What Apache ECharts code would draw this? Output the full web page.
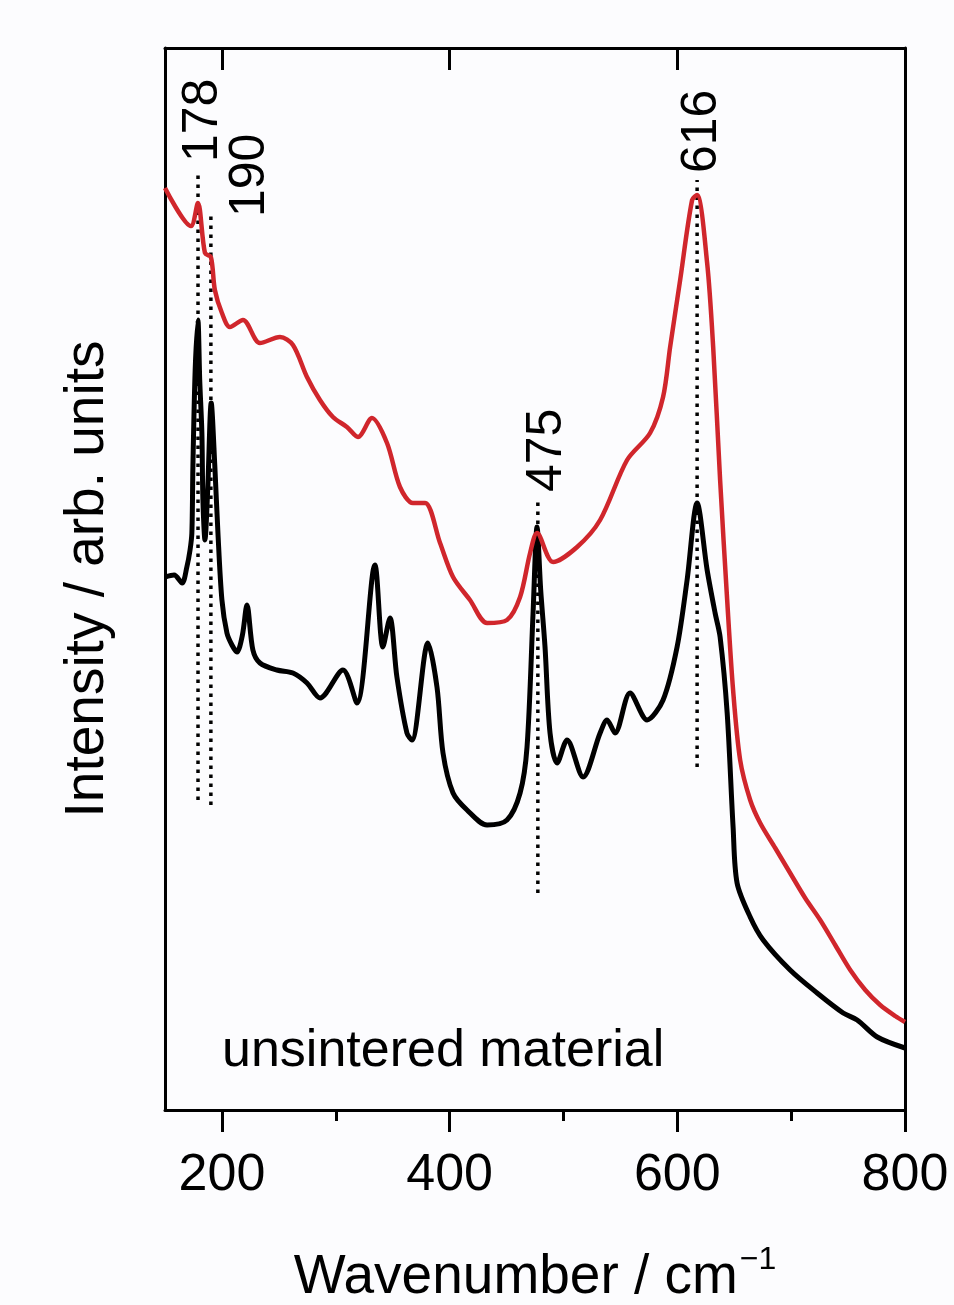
<!DOCTYPE html>
<html>
<head>
<meta charset="utf-8">
<script src="https://cdn.jsdelivr.net/npm/echarts@6/dist/echarts.min.js"></script>
<style>
  html, body { margin: 0; padding: 0; background: #fcfcfe; }
  #chart { width: 954px; height: 1305px; }
</style>
</head>
<body>
<div id="chart"></div>
<script>
// black spectrum
var blackWn = [150, 158, 165, 169.2, 172, 173.6, 174.5, 176.5, 178.9, 180.5, 182.4, 183.3, 185.1, 187.5, 190.6, 193.8, 196.5, 200, 204.4, 208.8, 213.2, 218, 222, 227.2, 233.4, 248.3, 262.4, 274.7, 286.1, 306.3, 318.6, 334.4, 341.4, 347.6, 353.7, 362.5, 366.9, 381, 388.9, 394.2, 403, 415.3, 432.9, 450.4, 461.9, 468, 473.3, 476.8, 480, 483.8, 488.2, 494.4, 503.2, 517.2, 532.2, 538.3, 545.3, 558.5, 573.5, 587.5, 599.8, 608.6, 617.4, 626.2, 633.2, 637.6, 643.8, 649, 652.5, 664, 675.4, 699.1, 722.8, 745.7, 758, 775.6, 800];
var blackInt = [53.3, 53.5, 52.7, 54.3, 56, 57.7, 64.3, 74, 79, 73, 67.7, 61, 57, 62, 70.7, 64.3, 57.7, 51, 47.7, 46.5, 45.8, 47.5, 50.5, 46, 44.7, 44, 43.7, 42.7, 41.2, 44, 40.7, 54.5, 46.3, 49.2, 43.3, 37.7, 37, 46.7, 42.3, 35.7, 31.7, 30, 28.5, 29, 31.7, 36.3, 49.7, 58.3, 52, 46.3, 37.7, 34.7, 37, 33.3, 37.7, 39, 37.7, 41.7, 39, 41, 46.3, 53, 60.7, 54, 49.7, 47.3, 39.7, 28.3, 22.7, 19.3, 17, 14, 11.7, 9.7, 9, 7.3, 6.2];

// red spectrum
var redWn = [150, 172.8, 178.9, 185.1, 190.3, 193.8, 200, 207, 218.5, 233.4, 251, 262.4, 274.7, 286.1, 297.5, 309.8, 319.5, 331.8, 345, 356.4, 367.8, 378.4, 391.6, 403, 417.9, 432.9, 450.4, 461.9, 470.7, 476.8, 490.9, 512, 532.2, 555.9, 576.1, 587.5, 593.7, 602.5, 613, 617.4, 626.2, 631.5, 637.6, 643.8, 649, 655.2, 664, 672.8, 686, 699.1, 712.3, 725.5, 738.7, 751.9, 765.1, 778.2, 791.4, 800];
var redInt = [92.2, 88.4, 90.7, 85.7, 85.3, 82, 79.7, 78.3, 79, 76.7, 77.3, 76.5, 73.3, 71, 69.3, 68.3, 67.3, 69.2, 66.7, 62.3, 60.7, 60.7, 56.7, 53.3, 51, 48.7, 49, 51.3, 55.7, 57.7, 54.8, 56.3, 59, 65, 67.7, 71.3, 76.3, 83, 91, 91.5, 84.7, 76.3, 63, 51, 42, 35, 31, 28.7, 26.2, 23.7, 21.2, 19, 16.5, 14, 12, 10.5, 9.4, 8.8];

// peak markers (dotted lines)
var peakLabels = ['178', '190', '475', '616'];
var peakWn = [179, 190.3, 477.5, 617.4];
var peakTop = [94, 89.8, 61.3, 93];
var peakBottom = [31, 30.5, 21.7, 34.3];

var xTicks = [200, 400, 600, 800];
var xMinorTicks = [300, 500, 700];

var FONT = '"Liberation Sans", Arial, Helvetica, sans-serif';

function pairs(xs, ys) {
  return xs.map(function (x, i) { return [x, ys[i]]; });
}

var peakSeries = peakWn.map(function (wn, i) {
  return {
    type: 'line',
    data: [[wn, peakBottom[i]], [wn, peakTop[i]]],
    symbol: 'none',
    silent: true,
    lineStyle: { color: '#000', width: 3.5, type: [3.5, 5.5] },
    z: 1
  };
});

function xAxisBase(extra) {
  var base = {
    type: 'value',
    min: 150,
    max: 800,
    splitLine: { show: false },
    axisLabel: { show: false },
    axisLine: { show: false }
  };
  return Object.assign(base, extra);
}

var dom = document.getElementById('chart');
var myChart = echarts.init(dom, null, { renderer: 'canvas' });

var option = {
  backgroundColor: '#fcfcfe',
  animation: false,
  grid: { left: 165, right: 49, top: 48, bottom: 195, containLabel: false, outerBoundsMode: 'none' },
  xAxis: [
    xAxisBase({
      position: 'bottom',
      axisLine: { show: true, onZero: false, lineStyle: { color: '#000', width: 3 } },
      axisTick: { show: true, inside: false, length: 22, customValues: xTicks, lineStyle: { color: '#000', width: 3 } },
      axisLabel: { show: true, customValues: xTicks, margin: 40, color: '#000', fontSize: 52, fontFamily: FONT },
      name: '{a|Wavenumber / cm}{b|\u22121}',
      nameLocation: 'middle',
      nameGap: 134,
      nameTextStyle: {
        rich: {
          a: { fontSize: 55, color: '#000', fontFamily: FONT },
          b: { fontSize: 32, color: '#000', fontFamily: FONT, padding: [0, 0, 36, 2] }
        }
      }
    }),
    xAxisBase({
      position: 'bottom',
      axisTick: { show: true, inside: false, length: 11, customValues: xMinorTicks, lineStyle: { color: '#000', width: 3 } }
    }),
    xAxisBase({
      position: 'top',
      axisLine: { show: true, onZero: false, lineStyle: { color: '#000', width: 3 } },
      axisTick: { show: true, inside: true, length: 22, customValues: xTicks, lineStyle: { color: '#000', width: 3 } }
    }),
    xAxisBase({
      position: 'top',
      axisTick: { show: true, inside: true, length: 11, customValues: xMinorTicks, lineStyle: { color: '#000', width: 3 } }
    })
  ],
  yAxis: [
    {
      type: 'value',
      min: 0,
      max: 106.2,
      position: 'left',
      axisLine: { show: true, onZero: false, lineStyle: { color: '#000', width: 3 } },
      axisTick: { show: false },
      axisLabel: { show: false },
      splitLine: { show: false },
      name: 'Intensity / arb. units',
      nameLocation: 'middle',
      nameGap: 50,
      nameTextStyle: { fontSize: 55, color: '#000', fontFamily: FONT }
    },
    {
      type: 'value',
      min: 0,
      max: 106.2,
      position: 'right',
      axisLine: { show: true, onZero: false, lineStyle: { color: '#000', width: 3 } },
      axisTick: { show: false },
      axisLabel: { show: false },
      splitLine: { show: false }
    }
  ],
  series: peakSeries.concat([
    {
      name: 'black',
      type: 'line',
      data: pairs(blackWn, blackInt),
      symbol: 'none',
      smooth: 0.3,
      lineStyle: { color: '#000', width: 5, join: 'round' },
      z: 3
    },
    {
      name: 'red',
      type: 'line',
      data: pairs(redWn, redInt),
      symbol: 'none',
      smooth: 0.3,
      lineStyle: { color: '#d0262c', width: 4.5, join: 'round' },
      z: 4
    }
  ])
};

myChart.setOption(option);

// rotated peak labels, placed from the dotted-line tops
var labelDx = [5, 39, 9, 5];
var labelDy = [-8, 5, -5, -7];
var graphics = peakLabels.map(function (txt, i) {
  var p = myChart.convertToPixel({ gridIndex: 0 }, [peakWn[i], peakTop[i]]);
  return {
    type: 'text',
    x: p[0] + labelDx[i],
    y: p[1] + labelDy[i],
    rotation: Math.PI / 2,
    style: {
      text: txt,
      fill: '#000',
      font: '50px ' + FONT,
      textAlign: 'left',
      textVerticalAlign: 'middle'
    },
    z: 10
  };
});
graphics.push({
  type: 'text',
  left: 222,
  top: 1026,
  style: { text: 'unsintered material', fill: '#000', font: '52px ' + FONT },
  z: 10
});

myChart.setOption({ graphic: graphics });

window.addEventListener('resize', myChart.resize);
</script>
</body>
</html>
